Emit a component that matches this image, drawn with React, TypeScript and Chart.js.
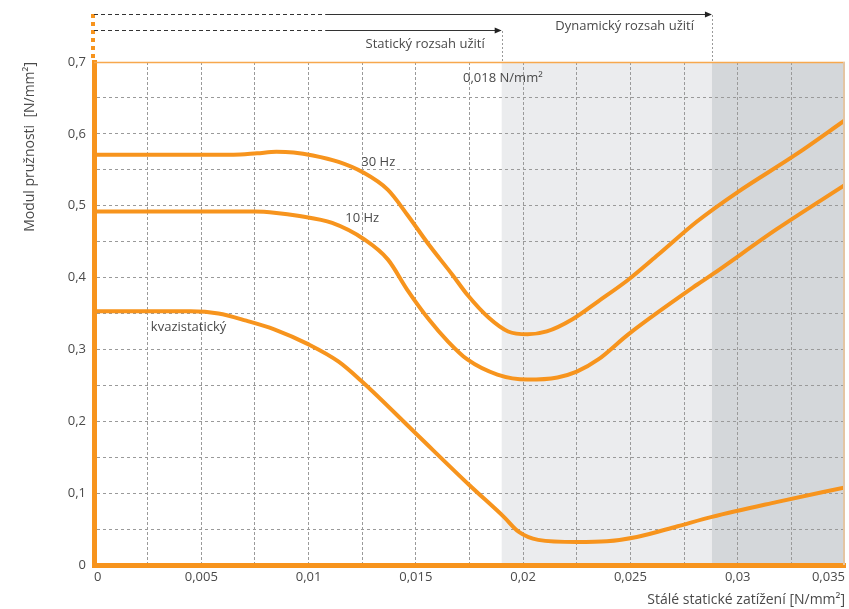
import React, { useEffect, useRef } from 'react';
import { Chart, registerables } from 'chart.js';

Chart.register(...registerables);

// ---- data (x: static load N/mm², y: modulus N/mm²) ----
const hz30X = [0, 0.005, 0.0065, 0.0076, 0.0085, 0.0093, 0.0102, 0.0114, 0.0125, 0.0137, 0.0146, 0.0156, 0.0167, 0.0174, 0.0184, 0.0193, 0.0202, 0.0211, 0.0223, 0.0235, 0.0249, 0.0263, 0.0281, 0.03, 0.0327, 0.035];
const hz30Y = [0.571, 0.571, 0.571, 0.573, 0.575, 0.574, 0.570, 0.561, 0.547, 0.522, 0.4875, 0.446, 0.404, 0.376, 0.344, 0.325, 0.321, 0.325, 0.342, 0.367, 0.397, 0.432, 0.478, 0.519, 0.571, 0.619];

const hz10X = [0, 0.0075, 0.0085, 0.0095, 0.0111, 0.0126, 0.0137, 0.0146, 0.0156, 0.0165, 0.0174, 0.0188, 0.0202, 0.0216, 0.0225, 0.0235, 0.0249, 0.0281, 0.0288, 0.0318, 0.035];
const hz10Y = [0.492, 0.492, 0.490, 0.486, 0.476, 0.453, 0.425, 0.383, 0.342, 0.311, 0.286, 0.265, 0.258, 0.261, 0.269, 0.286, 0.321, 0.39, 0.404, 0.467, 0.529];

const quasiX = [0, 0.0045, 0.0058, 0.0071, 0.0084, 0.01, 0.0114, 0.0125, 0.015, 0.0175, 0.0191, 0.0198, 0.0207, 0.0225, 0.0239, 0.0253, 0.0272, 0.0288, 0.0318, 0.035];
const quasiY = [0.353, 0.353, 0.350, 0.340, 0.328, 0.307, 0.283, 0.255, 0.183, 0.111, 0.067, 0.046, 0.035, 0.032, 0.033, 0.039, 0.054, 0.067, 0.0875, 0.108];

// axis ranges / ticks
const X_MIN = 0;
const X_MAX = 0.035;
const X_STEP = 0.0025;
const X_LABEL_STEP = 0.005;
const Y_MIN = 0;
const Y_MAX = 0.7;
const Y_STEP = 0.05;
const Y_LABEL_STEP = 0.1;

// ranges
const STATIC_LIMIT = 0.019;
const DYNAMIC_LIMIT = 0.0288;
const DASH_SPLIT = 0.0108;

// texts
const X_TITLE = 'Stálé statické zatížení [N/mm²]';
const Y_TITLE = 'Modul pružnosti  [N/mm²]';
const STATIC_TEXT = 'Statický rozsah užití';
const DYNAMIC_TEXT = 'Dynamický rozsah užití';
const LIMIT_TEXT = '0,018 N/mm²';
const seriesLabels = ['30 Hz', '10 Hz', 'kvazistatický'];
const seriesLabelX = [0.01246, 0.01171, 0.00265];
const seriesLabelY = [0.56, 0.482, 0.331];
const LIMIT_LABEL_X = 0.0172;
const LIMIT_LABEL_Y = 0.678;

const ORANGE = '#f7941d';
const FONT = "'Open Sans', 'Noto Sans', sans-serif";
const TEXT = '#4a4a4a';

const pts = (xs: number[], ys: number[]) => xs.map((x, i) => ({ x, y: ys[i] }));

const isMultiple = (v: number, step: number) => Math.abs(v / step - Math.round(v / step)) < 1e-6;
const fmt = (v: number) => (Math.abs(v) < 1e-12 ? '0' : String(Number(v.toFixed(4))).replace('.', ','));

const annotate = {
  id: 'annotate',
  beforeDraw(chart: any) {
    const { ctx, chartArea: a, scales } = chart;
    const x = scales.x;
    const s = x.getPixelForValue(STATIC_LIMIT);
    const d = x.getPixelForValue(DYNAMIC_LIMIT);
    ctx.save();
    ctx.fillStyle = '#ebecee';
    ctx.fillRect(s, a.top, d - s, a.bottom - a.top);
    ctx.fillStyle = '#d4d7da';
    ctx.fillRect(d, a.top, a.right - d, a.bottom - a.top);
    ctx.restore();
  },
  afterDraw(chart: any) {
    const { ctx, chartArea: a, scales } = chart;
    const x = scales.x;
    const y = scales.y;
    const s = x.getPixelForValue(STATIC_LIMIT);
    const d = x.getPixelForValue(DYNAMIC_LIMIT);
    const split = x.getPixelForValue(DASH_SPLIT);
    ctx.save();
    // top & right frame lines
    ctx.lineWidth = 1.5;
    ctx.strokeStyle = '#f7a84e';
    ctx.beginPath();
    ctx.moveTo(a.left, a.top + 0.5);
    ctx.lineTo(a.right, a.top + 0.5);
    ctx.stroke();
    ctx.lineWidth = 2;
    ctx.strokeStyle = '#e3c5a3';
    ctx.beginPath();
    ctx.moveTo(a.right - 1, a.top);
    ctx.lineTo(a.right - 1, a.bottom);
    ctx.stroke();
    // orange dashed extension of y axis
    ctx.lineWidth = 4;
    ctx.strokeStyle = ORANGE;
    ctx.setLineDash([4, 4]);
    ctx.beginPath();
    ctx.moveTo(a.left - 1, 14);
    ctx.lineTo(a.left - 1, a.top);
    ctx.stroke();
    // range arrows
    const arrow = (yy: number, tip: number) => {
      ctx.lineWidth = 1.2;
      ctx.strokeStyle = '#333';
      ctx.setLineDash([4, 3]);
      ctx.beginPath();
      ctx.moveTo(a.left, yy);
      ctx.lineTo(split, yy);
      ctx.stroke();
      ctx.setLineDash([]);
      ctx.beginPath();
      ctx.moveTo(split, yy);
      ctx.lineTo(tip - 6, yy);
      ctx.stroke();
      ctx.fillStyle = '#222';
      ctx.beginPath();
      ctx.moveTo(tip, yy);
      ctx.lineTo(tip - 7, yy - 3);
      ctx.lineTo(tip - 7, yy + 3);
      ctx.closePath();
      ctx.fill();
    };
    arrow(14.5, d);
    arrow(30.5, s);
    // dotted drops
    ctx.lineWidth = 1;
    ctx.strokeStyle = '#9a9a9a';
    ctx.setLineDash([2, 2]);
    ctx.beginPath();
    ctx.moveTo(Math.round(s) + 0.5, 31);
    ctx.lineTo(Math.round(s) + 0.5, a.top);
    ctx.moveTo(Math.round(d) + 0.5, 15);
    ctx.lineTo(Math.round(d) + 0.5, a.top);
    ctx.stroke();
    ctx.setLineDash([]);
    // texts
    ctx.fillStyle = TEXT;
    ctx.font = `13px ${FONT}`;
    ctx.textBaseline = 'middle';
    ctx.textAlign = 'right';
    ctx.fillText(DYNAMIC_TEXT, d - 18, 26);
    ctx.fillText(STATIC_TEXT, s - 17, 44);
    ctx.textAlign = 'left';
    ctx.fillText(LIMIT_TEXT, x.getPixelForValue(LIMIT_LABEL_X), y.getPixelForValue(LIMIT_LABEL_Y));
    seriesLabels.forEach((t, i) => {
      ctx.fillText(t, x.getPixelForValue(seriesLabelX[i]), y.getPixelForValue(seriesLabelY[i]));
    });
    ctx.restore();
  },
};

export default function App() {
  const ref = useRef<HTMLCanvasElement | null>(null);
  useEffect(() => {
    if (!ref.current) return;
    const lineDs = (label: string, xs: number[], ys: number[]) => ({
      label,
      data: pts(xs, ys),
      borderColor: ORANGE,
      borderWidth: 4,
      pointRadius: 0,
      fill: false,
      cubicInterpolationMode: 'monotone' as const,
    });
    const chart = new Chart(ref.current, {
      type: 'line',
      data: {
        datasets: [
          lineDs(seriesLabels[0], hz30X, hz30Y),
          lineDs(seriesLabels[1], hz10X, hz10Y),
          lineDs(seriesLabels[2], quasiX, quasiY),
        ],
      },
      options: {
        animation: false,
        responsive: false,
        layout: { padding: { top: 62, right: 1, left: 0, bottom: 0 } },
        plugins: { legend: { display: false }, tooltip: { enabled: false } },
        scales: {
          x: {
            type: 'linear',
            min: X_MIN,
            max: X_MAX,
            afterFit: (sc: any) => { sc.height = 44; },
            ticks: {
              stepSize: X_STEP,
              autoSkip: false,
              maxRotation: 0,
              align: 'inner',
              padding: 4,
              color: TEXT,
              font: { family: FONT, size: 13 },
              callback: (v: any) => (isMultiple(Number(v), X_LABEL_STEP) ? fmt(Number(v)) : ''),
            },
            grid: {
              drawTicks: false,
              lineWidth: 1,
              color: (c: any) => (c.tick && (c.tick.value <= 1e-9 || c.tick.value >= X_MAX - 1e-9) ? 'rgba(0,0,0,0)' : '#9a9a9a'),
            },
            border: { display: true, color: ORANGE, width: 5, dash: [3, 2] },
            title: {
              display: true,
              text: X_TITLE,
              align: 'end',
              color: TEXT,
              font: { family: FONT, size: 14 },
              padding: { top: 0, bottom: 1 },
            },
          },
          y: {
            type: 'linear',
            min: Y_MIN,
            max: Y_MAX,
            afterFit: (sc: any) => { sc.width = 94; },
            ticks: {
              stepSize: Y_STEP,
              autoSkip: false,
              padding: 8,
              color: TEXT,
              font: { family: FONT, size: 13 },
              callback: (v: any) => (isMultiple(Number(v), Y_LABEL_STEP) ? fmt(Number(v)) : ''),
            },
            grid: {
              drawTicks: false,
              lineWidth: 1,
              color: (c: any) => (c.tick && (c.tick.value <= 1e-9 || c.tick.value >= Y_MAX - 1e-9) ? 'rgba(0,0,0,0)' : '#9a9a9a'),
            },
            border: { display: true, color: ORANGE, width: 5, dash: [3, 3] },
            title: {
              display: true,
              text: Y_TITLE,
              align: 'end',
              color: TEXT,
              font: { family: FONT, size: 14 },
              padding: { top: 22, bottom: 0 },
            },
          },
        },
      },
      plugins: [annotate],
    });
    return () => chart.destroy();
  }, []);
  return (
    <div style={{ position: 'absolute', left: 0, top: 0, width: 849, height: 609 }}>
      <canvas ref={ref} width={849} height={609} style={{ display: 'block' }} />
    </div>
  );
}
